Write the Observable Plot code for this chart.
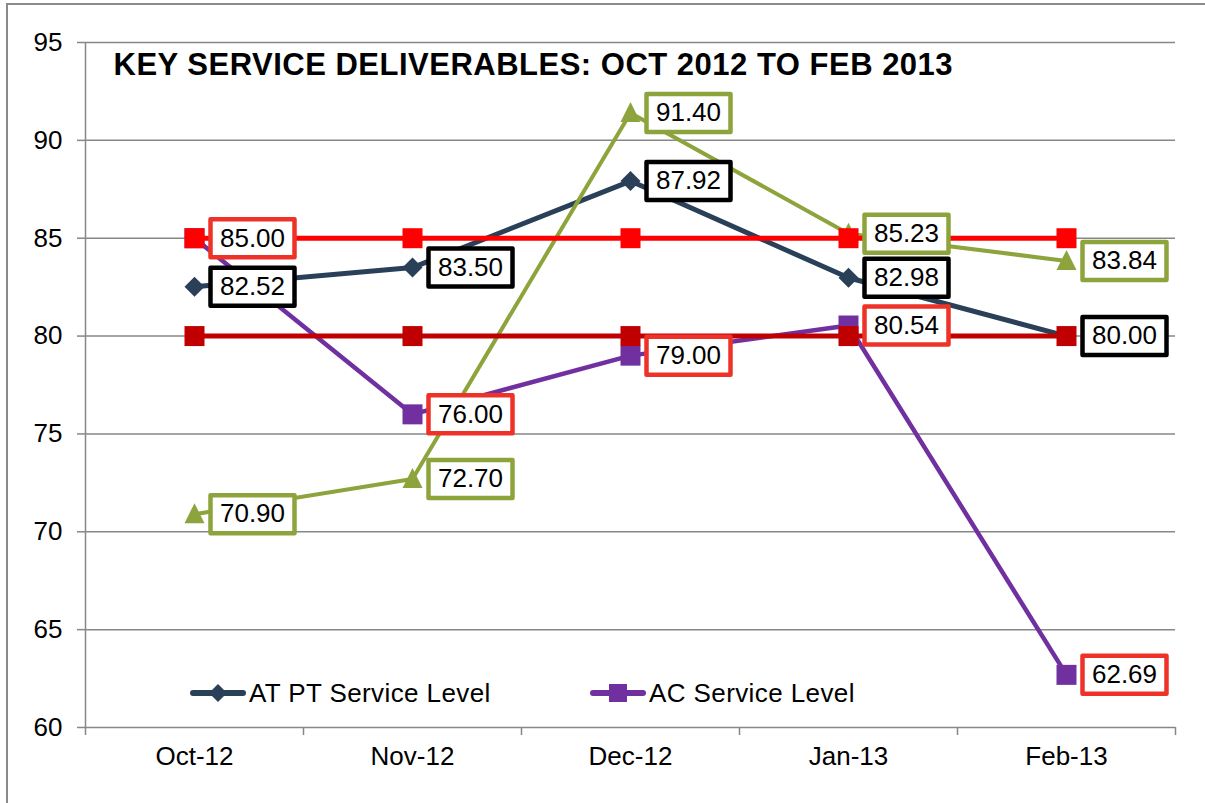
<!DOCTYPE html>
<html>
<head>
<meta charset="utf-8">
<script src="https://cdn.jsdelivr.net/npm/d3@7"></script>
<script src="https://cdn.jsdelivr.net/npm/@observablehq/plot@0.6"></script>
<style>
  html, body { margin: 0; padding: 0; background: #fff; }
  #wrap { position: relative; width: 1205px; height: 803px; overflow: hidden; font-family: "Liberation Sans", Arial, sans-serif; }
  #frame { position: absolute; left: 6px; top: 3px; width: 1300px; height: 900px; border-top: 2px solid #8a8a8a; border-left: 2px solid #8a8a8a; box-sizing: border-box; }
  .leg { position: absolute; display: flex; align-items: center; font-size: 26px; letter-spacing: 0.4px; color: #000; line-height: 30px; white-space: nowrap; }
  .leg svg { display: block; margin-right: 3px; }
</style>
</head>
<body>
<div id="wrap">
  <div id="frame"></div>
  <div id="chart"></div>
</div>
<script>
// ---- data ----
const months = ["Oct-12", "Nov-12", "Dec-12", "Jan-13", "Feb-13"];
const atptServiceLevel = [82.52, 83.50, 87.92, 82.98, 80.00];
const acServiceLevel = [85.00, 76.00, 79.00, 80.54, 62.69];
const thirdSeries = [70.90, 72.70, 91.40, 85.23, 83.84];
const target85 = [85, 85, 85, 85, 85];
const target80 = [80, 80, 80, 80, 80];
const yTicks = [60, 65, 70, 75, 80, 85, 90, 95];
const titleText = "KEY SERVICE DELIVERABLES: OCT 2012 TO FEB 2013";
const legendNames = ["AT PT Service Level", "AC Service Level"];

// ---- styles ----
const navy = "#2a3f58", purple = "#7030a0", green = "#8da43c", red = "#ff0000", darkRed = "#c00000";
const labelRed = "#ee3228";
const gridColor = "#878787";

const toRows = vals => vals.map((v, i) => ({i, v}));

const sym = {
  diamond: {draw(c) { const r = 10; c.moveTo(0, -r); c.lineTo(r, 0); c.lineTo(0, r); c.lineTo(-r, 0); c.closePath(); }},
  square: {draw(c) { c.rect(-10, -10, 20, 20); }},
  triangle: {draw(c) { c.moveTo(0, -11); c.lineTo(10, 9); c.lineTo(-10, 9); c.closePath(); }},
  box: {draw(c) { c.rect(-42, -19, 84, 38); }}
};

const series = [
  {vals: atptServiceLevel, color: navy, symbol: sym.diamond, width: 5, label: "#000000"},
  {vals: acServiceLevel, color: purple, symbol: sym.square, width: 4.5, label: labelRed},
  {vals: thirdSeries, color: green, symbol: sym.triangle, width: 4, label: green},
  {vals: target85, color: red, symbol: sym.square, width: 5, label: null},
  {vals: target80, color: darkRed, symbol: sym.square, width: 5, label: null}
];

const boundaries = months.map((m, i) => i - 0.5).concat([months.length - 0.5]);

const marks = [
  Plot.gridY(yTicks, {stroke: gridColor, strokeOpacity: 1, strokeWidth: 1.5}),
  Plot.ruleX([boundaries[0]], {stroke: gridColor, strokeWidth: 1.5}),
  Plot.axisY({ticks: yTicks, tickSize: 8, tickPadding: 15, fontSize: 26, stroke: gridColor, strokeWidth: 1.5, fill: "#000", label: null}),
  Plot.axisX({ticks: boundaries, tickSize: 8, tickFormat: () => "", stroke: gridColor, strokeWidth: 1.5, label: null}),
  Plot.axisX({ticks: months.map((m, i) => i), tickSize: 0, tickPadding: 19, tickFormat: i => months[i], fontSize: 26, fill: "#000", label: null})
];

for (const s of series) {
  const data = toRows(s.vals);
  marks.push(Plot.line(data, {x: "i", y: "v", stroke: s.color, strokeWidth: s.width, strokeLinejoin: "round"}));
  marks.push(Plot.dot(data, {x: "i", y: "v", symbol: s.symbol, fill: s.color, stroke: "none", r: 5}));
}
for (const s of series) {
  if (!s.label) continue;
  const data = toRows(s.vals);
  marks.push(Plot.dot(data, {x: "i", y: "v", symbol: sym.box, r: 5, dx: 58, fill: "#fff", stroke: s.label, strokeWidth: 4.5, strokeLinejoin: "round"}));
  marks.push(Plot.text(data, {x: "i", y: "v", text: d => d.v.toFixed(2), dx: 58, fontSize: 26, fill: "#000", textAnchor: "middle"}));
}
marks.push(Plot.text([titleText], {frameAnchor: "top-left", dx: 28, dy: 10, lineAnchor: "top", textAnchor: "start", fontSize: 31, fontWeight: "bold", fill: "#000", letterSpacing: "0.5px"}));

const chart = Plot.plot({
  width: 1205,
  height: 803,
  marginLeft: 85,
  marginRight: 30,
  marginTop: 42,
  marginBottom: 76,
  style: {fontFamily: "'Liberation Sans', Arial, sans-serif", background: "transparent", overflow: "visible"},
  x: {type: "linear", domain: [-0.5, months.length - 0.5], axis: null, label: null},
  y: {domain: [60, 95], axis: null, label: null},
  marks
});
document.getElementById("chart").appendChild(chart);
// letter spacing on the title text
d3.select(chart).selectAll("text").filter(function() { return this.textContent === titleText; }).style("letter-spacing", "0.5px");

// legend (inside plot area, bottom)
const wrap = document.getElementById("wrap");
const legendItems = [
  {name: legendNames[0], color: navy, shape: "diamond", left: 190},
  {name: legendNames[1], color: purple, shape: "square", left: 590}
];
for (const it of legendItems) {
  const d = document.createElement("div");
  d.className = "leg";
  d.style.left = it.left + "px";
  d.style.top = "678px";
  const marker = it.shape === "diamond"
    ? `<path d="M28,1 L37,10 L28,19 L19,10 Z" fill="${it.color}"/>`
    : `<rect x="19" y="1" width="18" height="18" fill="${it.color}"/>`;
  d.innerHTML = `<svg width="56" height="20"><line x1="3" y1="10" x2="53" y2="10" stroke="${it.color}" stroke-width="6" stroke-linecap="round"/>${marker}</svg><span>${it.name}</span>`;
  wrap.appendChild(d);
}
</script>
</body>
</html>
